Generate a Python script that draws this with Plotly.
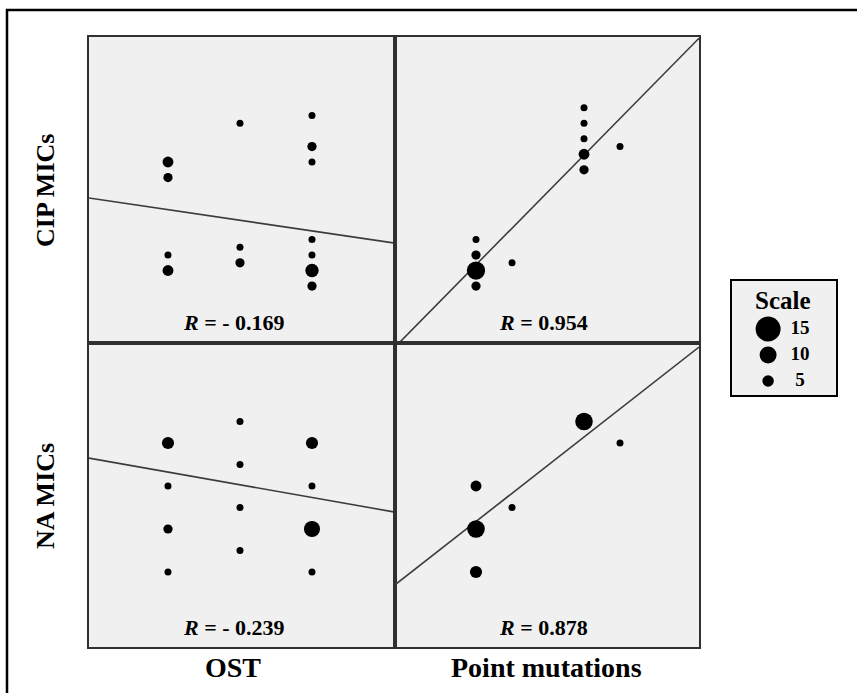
import plotly.graph_objects as go

# ---------------- data ----------------
# Top-left: CIP MICs vs OST
ost_x_cip = [1, 1, 1, 1, 2, 2, 2, 3, 3, 3, 3, 3, 3, 3]
cip_by_ost = [8, 7, 2, 1, 10.5, 2.5, 1.5, 11, 9, 8, 3, 2, 1, 0]
n_cip_ost = [3, 2, 1, 3, 1, 1, 2, 1, 2, 1, 1, 1, 5, 2]

# Top-right: CIP MICs vs point mutations
pm_x_cip = [1, 1, 1, 1, 2, 4, 4, 4, 4, 4, 5]
cip_by_pm = [3, 2, 1, 0, 1.5, 11.5, 10.5, 9.5, 8.5, 7.5, 9]
n_cip_pm = [1, 2, 11, 2, 1, 1, 1, 1, 3, 2, 1]

# Bottom-left: NA MICs vs OST
ost_x_na = [1, 1, 1, 1, 2, 2, 2, 2, 3, 3, 3, 3]
na_by_ost = [6, 4, 2, 0, 7, 5, 3, 1, 6, 4, 2, 0]
n_na_ost = [4, 1, 2, 1, 1, 1, 1, 1, 4, 1, 8, 1]

# Bottom-right: NA MICs vs point mutations
pm_x_na = [1, 1, 1, 2, 4, 5]
na_by_pm = [4, 2, 0, 3, 7, 6]
n_na_pm = [3, 10, 4, 1, 10, 1]

# Fitted lines (slope, intercept) and R values, panel order TL, TR, BL, BR
fit_slope = [-0.685, 2.36, -0.591, 1.31]
fit_intercept = [5.61, -0.99, 5.24, 1.04]
r_labels = ["- 0.169", "0.954", "- 0.239", "0.878"]

row_titles = ["CIP MICs", "NA MICs"]
col_titles = ["OST", "Point mutations"]

legend_title = "Scale"
legend_values = [15, 10, 5]

# ---------------- layout / style ----------------
W, H = 857, 693
FONT = "Liberation Serif, Times New Roman, serif"
PANEL_BG = "#f0f0f0"
BORDER = "#303030"

def px_x(p):
    return p / W

def px_y(p):
    return 1 - p / H

def dot_size(n):
    return 7 * n ** 0.4

legend_size_map = {15: 25, 10: 17, 5: 11.5}

col_dom = [[px_x(89), px_x(395)], [px_x(395), px_x(699)]]
row_dom = [[px_y(343), px_y(37)], [px_y(647), px_y(343)]]
col_range = [[-0.0972, 4.153], [-1.25, 7.194]]
row_range = [[-3.677, 16.065], [-3.488, 10.651]]

panels = [
    (0, 0, ost_x_cip, cip_by_ost, n_cip_ost),
    (0, 1, pm_x_cip, cip_by_pm, n_cip_pm),
    (1, 0, ost_x_na, na_by_ost, n_na_ost),
    (1, 1, pm_x_na, na_by_pm, n_na_pm),
]

fig = go.Figure()
layout = dict(
    width=W, height=H,
    margin=dict(l=0, r=0, t=0, b=0),
    paper_bgcolor="white", plot_bgcolor=PANEL_BG,
    showlegend=False,
    font=dict(family=FONT, color="black"),
)

annotations = []
for i, (r, c, xs, ys, ns) in enumerate(panels):
    k = i + 1
    xa = "x" if k == 1 else f"x{k}"
    ya = "y" if k == 1 else f"y{k}"
    axis_common = dict(showgrid=False, zeroline=False, showticklabels=False,
                       ticks="", showline=True, mirror=True,
                       linecolor=BORDER, linewidth=1.6, fixedrange=True)
    layout["xaxis" if k == 1 else f"xaxis{k}"] = dict(
        domain=col_dom[c], range=col_range[c], anchor=ya, **axis_common)
    layout["yaxis" if k == 1 else f"yaxis{k}"] = dict(
        domain=row_dom[r], range=row_range[r], anchor=xa, **axis_common)

    x0, x1 = col_range[c]
    fig.add_trace(go.Scatter(
        x=[x0, x1],
        y=[fit_intercept[i] + fit_slope[i] * x0, fit_intercept[i] + fit_slope[i] * x1],
        mode="lines", line=dict(color="#3c3c3c", width=1.6),
        xaxis=xa, yaxis=ya, hoverinfo="skip"))
    fig.add_trace(go.Scatter(
        x=xs, y=ys, mode="markers",
        marker=dict(size=[dot_size(n) for n in ns], color="black", opacity=1,
                    line=dict(width=0)),
        xaxis=xa, yaxis=ya))

    annotations.append(dict(
        x=[234, 543][c] / W, y=px_y([322, 627][r]), xref="paper", yref="paper",
        text=f"<b><i>R</i> = {r_labels[i]}</b>", showarrow=False,
        font=dict(size=22, family=FONT, color="black"),
        xanchor="center", yanchor="middle"))

# row / column titles
for r, t in enumerate(row_titles):
    annotations.append(dict(
        x=px_x(45), y=px_y([191, 496][r]), xref="paper", yref="paper",
        text=f"<b>{t}</b>", textangle=-90, showarrow=False,
        font=dict(size=26, family=FONT, color="black"),
        xanchor="center", yanchor="middle"))
for c, t in enumerate(col_titles):
    annotations.append(dict(
        x=px_x([233, 546][c]), y=px_y(667), xref="paper", yref="paper",
        text=f"<b>{t}</b>", showarrow=False,
        font=dict(size=28, family=FONT, color="black"),
        xanchor="center", yanchor="middle"))

# legend ("Scale") in its own small axes
layout["xaxis5"] = dict(domain=[px_x(731), px_x(837)], range=[0, 1], anchor="y5",
                        visible=False, fixedrange=True)
layout["yaxis5"] = dict(domain=[px_y(396), px_y(280)], range=[2.577, -1.885],
                        anchor="x5", visible=False, fixedrange=True)
leg_idx = list(range(len(legend_values)))
fig.add_trace(go.Scatter(
    x=[0.35] * len(legend_values), y=leg_idx, mode="markers",
    marker=dict(size=[legend_size_map[v] for v in legend_values], color="black",
                opacity=1, line=dict(width=0)),
    xaxis="x5", yaxis="y5"))
fig.add_trace(go.Scatter(
    x=[0.65] * len(legend_values), y=leg_idx, mode="text",
    text=[f"<b>{v}</b>" for v in legend_values], textposition="middle center",
    textfont=dict(size=19, family=FONT, color="black"),
    xaxis="x5", yaxis="y5"))
annotations.append(dict(
    x=px_x(783), y=px_y(300), xref="paper", yref="paper",
    text=f"<b>{legend_title}</b>", showarrow=False,
    font=dict(size=25, family=FONT, color="black"),
    xanchor="center", yanchor="middle"))

layout["annotations"] = annotations
layout["shapes"] = [
    # outer frame (cut off at right/bottom like the source image)
    dict(type="rect", xref="paper", yref="paper",
         x0=px_x(7), x1=1.05, y0=-0.05, y1=px_y(10),
         line=dict(color="black", width=2.5), fillcolor="rgba(0,0,0,0)", layer="below"),
    # legend box
    dict(type="rect", xref="paper", yref="paper",
         x0=px_x(731), x1=px_x(837), y0=px_y(396), y1=px_y(280),
         line=dict(color="black", width=2), fillcolor="rgba(0,0,0,0)"),
]

fig.update_layout(**layout)
fig.write_html(
    "out.html",
    config={"displayModeBar": False, "staticPlot": True},
    post_script="document.body.style.margin='0';document.body.style.overflow='hidden';",
)
